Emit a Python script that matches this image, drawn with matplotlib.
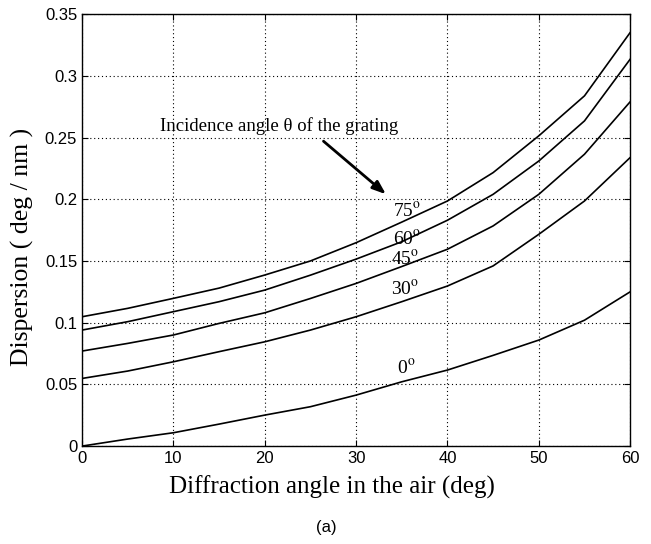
import matplotlib.pyplot as plt

plt.rcParams['mathtext.fontset'] = 'stix'

# Diffraction angle in the air (deg)
angle = [0, 5, 10, 15, 20, 25, 30, 35, 40, 45, 50, 55, 60]

# Dispersion (deg / nm) for each incidence angle of the grating
disp_75 = [0.1048, 0.1116, 0.1197, 0.128, 0.1386, 0.150, 0.1648, 0.1815, 0.1986, 0.2216, 0.2514, 0.2838, 0.3351]
disp_60 = [0.094, 0.1008, 0.1089, 0.117, 0.1264, 0.1385, 0.1515, 0.1656, 0.183, 0.204, 0.231, 0.2635, 0.3135]
disp_45 = [0.077, 0.0832, 0.090, 0.0994, 0.108, 0.1196, 0.1318, 0.1455, 0.1595, 0.1784, 0.204, 0.2365, 0.279]
disp_30 = [0.0548, 0.0608, 0.0683, 0.0765, 0.0845, 0.094, 0.1048, 0.117, 0.1297, 0.146, 0.1716, 0.1986, 0.2338]
disp_0 = [0.0, 0.0057, 0.0108, 0.0178, 0.0251, 0.0319, 0.0413, 0.0521, 0.0616, 0.0735, 0.0859, 0.102, 0.125]

curves = [disp_75, disp_60, disp_45, disp_30, disp_0]
labels = ['75', '60', '45', '30', '0']
label_pos = [(35.6, 0.191), (35.6, 0.168), (35.4, 0.152), (35.4, 0.127), (35.5, 0.0635)]

serif = ['Liberation Serif', 'DejaVu Serif']
sans = ['Liberation Sans', 'DejaVu Sans']

fig = plt.figure(figsize=(6.51, 5.44), dpi=100)
ax = fig.add_axes([0.126, 0.180, 0.842, 0.794])

for d in curves:
    ax.plot(angle, d, color='black', linewidth=1.2)

for lab, (lx, ly) in zip(labels, label_pos):
    ax.text(lx, ly, lab + r'$^{\mathrm{o}}$', fontsize=14, family=serif,
            ha='center', va='center')

ax.annotate('', xy=(33.5, 0.2026), xytext=(26.2, 0.2485),
            arrowprops=dict(arrowstyle='-|>,head_length=0.8,head_width=0.3',
                            color='black', lw=2))
ax.text(8.5, 0.259, 'Incidence angle \u03b8 of the grating', fontsize=13.5,
        family=serif, ha='left', va='center')

ax.set_xlim(0, 60)
ax.set_ylim(0, 0.35)
ax.set_xticks([0, 10, 20, 30, 40, 50, 60])
ax.set_yticks([0, 0.05, 0.1, 0.15, 0.2, 0.25, 0.3, 0.35])
ax.set_yticklabels(['0', '0.05', '0.1', '0.15', '0.2', '0.25', '0.3', '0.35'])
ax.tick_params(direction='in', top=True, right=True, length=4, labelsize=12)
for t in ax.get_xticklabels() + ax.get_yticklabels():
    t.set_family(sans)
ax.grid(True, linestyle=(0, (1, 2.5)), color='black', linewidth=0.8)
for s in ax.spines.values():
    s.set_linewidth(1.0)

ax.set_xlabel('Diffraction angle in the air (deg)', fontsize=18, family=serif)
ax.set_ylabel('Dispersion ( deg / nm )', fontsize=18.5, family=serif)
ax.xaxis.set_label_coords(0.456, -0.068)
ax.yaxis.set_label_coords(-0.088, 0.46)

fig.text(0.502, 0.031, '(a)', fontsize=12, family=sans, ha='center', va='center')

fig.savefig('out.png', dpi=100)
